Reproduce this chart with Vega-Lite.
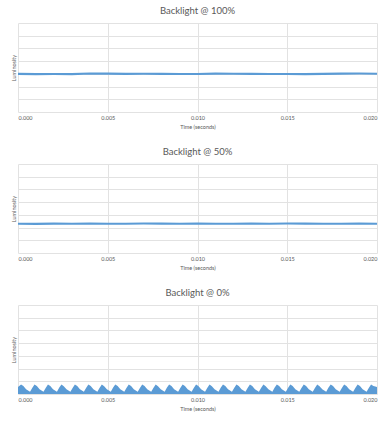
{
  "$schema": "https://vega.github.io/schema/vega-lite/v6.json",
  "padding": {"left": 11, "top": 5, "right": 5, "bottom": 0},
  "background": "white",
  "datasets": {
    "p100": [
      {"t": 0.0, "lum": 3.0}, {"t": 0.001, "lum": 2.98}, {"t": 0.002, "lum": 2.99}, {"t": 0.003, "lum": 2.98},
      {"t": 0.004, "lum": 3.03}, {"t": 0.005, "lum": 3.02}, {"t": 0.006, "lum": 3.0}, {"t": 0.007, "lum": 3.01},
      {"t": 0.008, "lum": 3.0}, {"t": 0.009, "lum": 2.99}, {"t": 0.010, "lum": 2.99}, {"t": 0.011, "lum": 3.02},
      {"t": 0.012, "lum": 3.01}, {"t": 0.013, "lum": 3.0}, {"t": 0.014, "lum": 2.99}, {"t": 0.015, "lum": 2.99},
      {"t": 0.016, "lum": 2.98}, {"t": 0.017, "lum": 3.0}, {"t": 0.018, "lum": 3.02}, {"t": 0.019, "lum": 3.03},
      {"t": 0.020, "lum": 3.01}
    ],
    "p50": [
      {"t": 0.0, "lum": 2.3}, {"t": 0.001, "lum": 2.29}, {"t": 0.002, "lum": 2.31}, {"t": 0.003, "lum": 2.3},
      {"t": 0.004, "lum": 2.31}, {"t": 0.005, "lum": 2.3}, {"t": 0.006, "lum": 2.3}, {"t": 0.007, "lum": 2.32},
      {"t": 0.008, "lum": 2.31}, {"t": 0.009, "lum": 2.3}, {"t": 0.010, "lum": 2.31}, {"t": 0.011, "lum": 2.3},
      {"t": 0.012, "lum": 2.3}, {"t": 0.013, "lum": 2.31}, {"t": 0.014, "lum": 2.3}, {"t": 0.015, "lum": 2.32},
      {"t": 0.016, "lum": 2.31}, {"t": 0.017, "lum": 2.3}, {"t": 0.018, "lum": 2.3}, {"t": 0.019, "lum": 2.31},
      {"t": 0.020, "lum": 2.3}
    ],
    "p0": [
      {"t": 0.0, "lum": 0.55}, {"t": 0.00017, "lum": 0.74}, {"t": 0.0003, "lum": 0.62}, {"t": 0.00045, "lum": 0.38},
      {"t": 0.00067, "lum": 0.18}, {"t": 0.0008, "lum": 0.5}, {"t": 0.00092, "lum": 0.74}, {"t": 0.00105, "lum": 0.62}, {"t": 0.0012, "lum": 0.38},
      {"t": 0.00142, "lum": 0.18}, {"t": 0.00155, "lum": 0.5}, {"t": 0.00167, "lum": 0.75}, {"t": 0.0018, "lum": 0.62}, {"t": 0.00195, "lum": 0.37},
      {"t": 0.00217, "lum": 0.18}, {"t": 0.0023, "lum": 0.51}, {"t": 0.00242, "lum": 0.74}, {"t": 0.00255, "lum": 0.61}, {"t": 0.0027, "lum": 0.38},
      {"t": 0.00292, "lum": 0.17}, {"t": 0.00305, "lum": 0.5}, {"t": 0.00317, "lum": 0.74}, {"t": 0.0033, "lum": 0.62}, {"t": 0.00345, "lum": 0.38},
      {"t": 0.00367, "lum": 0.18}, {"t": 0.0038, "lum": 0.5}, {"t": 0.00392, "lum": 0.75}, {"t": 0.00405, "lum": 0.62}, {"t": 0.0042, "lum": 0.37},
      {"t": 0.00442, "lum": 0.18}, {"t": 0.00455, "lum": 0.5}, {"t": 0.00467, "lum": 0.74}, {"t": 0.0048, "lum": 0.61}, {"t": 0.00495, "lum": 0.38},
      {"t": 0.00517, "lum": 0.18}, {"t": 0.0053, "lum": 0.51}, {"t": 0.00542, "lum": 0.74}, {"t": 0.00555, "lum": 0.62}, {"t": 0.0057, "lum": 0.38},
      {"t": 0.00592, "lum": 0.17}, {"t": 0.00605, "lum": 0.5}, {"t": 0.00617, "lum": 0.75}, {"t": 0.0063, "lum": 0.62}, {"t": 0.00645, "lum": 0.38},
      {"t": 0.00667, "lum": 0.18}, {"t": 0.0068, "lum": 0.5}, {"t": 0.00692, "lum": 0.74}, {"t": 0.00705, "lum": 0.62}, {"t": 0.0072, "lum": 0.37},
      {"t": 0.00742, "lum": 0.18}, {"t": 0.00755, "lum": 0.5}, {"t": 0.00767, "lum": 0.74}, {"t": 0.0078, "lum": 0.61}, {"t": 0.00795, "lum": 0.38},
      {"t": 0.00817, "lum": 0.18}, {"t": 0.0083, "lum": 0.51}, {"t": 0.00842, "lum": 0.75}, {"t": 0.00855, "lum": 0.62}, {"t": 0.0087, "lum": 0.38},
      {"t": 0.00892, "lum": 0.17}, {"t": 0.00905, "lum": 0.5}, {"t": 0.00917, "lum": 0.74}, {"t": 0.0093, "lum": 0.62}, {"t": 0.00945, "lum": 0.38},
      {"t": 0.00967, "lum": 0.18}, {"t": 0.0098, "lum": 0.5}, {"t": 0.00992, "lum": 0.74}, {"t": 0.01005, "lum": 0.62}, {"t": 0.0102, "lum": 0.37},
      {"t": 0.01042, "lum": 0.18}, {"t": 0.01055, "lum": 0.5}, {"t": 0.01067, "lum": 0.75}, {"t": 0.0108, "lum": 0.61}, {"t": 0.01095, "lum": 0.38},
      {"t": 0.01117, "lum": 0.18}, {"t": 0.0113, "lum": 0.51}, {"t": 0.01142, "lum": 0.74}, {"t": 0.01155, "lum": 0.62}, {"t": 0.0117, "lum": 0.38},
      {"t": 0.01192, "lum": 0.17}, {"t": 0.01205, "lum": 0.5}, {"t": 0.01217, "lum": 0.74}, {"t": 0.0123, "lum": 0.62}, {"t": 0.01245, "lum": 0.38},
      {"t": 0.01267, "lum": 0.18}, {"t": 0.0128, "lum": 0.5}, {"t": 0.01292, "lum": 0.75}, {"t": 0.01305, "lum": 0.62}, {"t": 0.0132, "lum": 0.37},
      {"t": 0.01342, "lum": 0.18}, {"t": 0.01355, "lum": 0.5}, {"t": 0.01367, "lum": 0.74}, {"t": 0.0138, "lum": 0.61}, {"t": 0.01395, "lum": 0.38},
      {"t": 0.01417, "lum": 0.18}, {"t": 0.0143, "lum": 0.51}, {"t": 0.01442, "lum": 0.74}, {"t": 0.01455, "lum": 0.62}, {"t": 0.0147, "lum": 0.38},
      {"t": 0.01492, "lum": 0.17}, {"t": 0.01505, "lum": 0.5}, {"t": 0.01517, "lum": 0.75}, {"t": 0.0153, "lum": 0.62}, {"t": 0.01545, "lum": 0.38},
      {"t": 0.01567, "lum": 0.18}, {"t": 0.0158, "lum": 0.5}, {"t": 0.01592, "lum": 0.74}, {"t": 0.01605, "lum": 0.62}, {"t": 0.0162, "lum": 0.37},
      {"t": 0.01642, "lum": 0.18}, {"t": 0.01655, "lum": 0.5}, {"t": 0.01667, "lum": 0.74}, {"t": 0.0168, "lum": 0.61}, {"t": 0.01695, "lum": 0.38},
      {"t": 0.01717, "lum": 0.18}, {"t": 0.0173, "lum": 0.51}, {"t": 0.01742, "lum": 0.75}, {"t": 0.01755, "lum": 0.62}, {"t": 0.0177, "lum": 0.38},
      {"t": 0.01792, "lum": 0.17}, {"t": 0.01805, "lum": 0.5}, {"t": 0.01817, "lum": 0.74}, {"t": 0.0183, "lum": 0.62}, {"t": 0.01845, "lum": 0.38},
      {"t": 0.01867, "lum": 0.18}, {"t": 0.0188, "lum": 0.5}, {"t": 0.01892, "lum": 0.74}, {"t": 0.01905, "lum": 0.62}, {"t": 0.0192, "lum": 0.37},
      {"t": 0.01942, "lum": 0.18}, {"t": 0.01955, "lum": 0.5}, {"t": 0.01967, "lum": 0.75}, {"t": 0.0198, "lum": 0.62}, {"t": 0.02, "lum": 0.55}
    ]
  },
  "vconcat": [
    {
      "title": "Backlight @ 100%",
      "width": 359, "height": 89,
      "data": {"name": "p100"},
      "mark": {"type": "line", "color": "#5b9bd5", "strokeWidth": 2.2},
      "encoding": {
        "x": {"field": "t", "type": "quantitative", "title": "Time (seconds)", "scale": {"domain": [0, 0.02], "nice": false}, "axis": {"values": [0, 0.005, 0.01, 0.015, 0.02], "format": ".3f"}},
        "y": {"field": "lum", "type": "quantitative", "title": "Luminosity", "scale": {"domain": [0, 7], "nice": false}, "axis": {"values": [0, 1, 2, 3, 4, 5, 6, 7], "labels": false}}
      }
    },
    {
      "title": "Backlight @ 50%",
      "width": 359, "height": 89,
      "data": {"name": "p50"},
      "mark": {"type": "line", "color": "#5b9bd5", "strokeWidth": 2.2},
      "encoding": {
        "x": {"field": "t", "type": "quantitative", "title": "Time (seconds)", "scale": {"domain": [0, 0.02], "nice": false}, "axis": {"values": [0, 0.005, 0.01, 0.015, 0.02], "format": ".3f"}},
        "y": {"field": "lum", "type": "quantitative", "title": "Luminosity", "scale": {"domain": [0, 7], "nice": false}, "axis": {"values": [0, 1, 2, 3, 4, 5, 6, 7], "labels": false}}
      }
    },
    {
      "title": "Backlight @ 0%",
      "width": 359, "height": 89,
      "data": {"name": "p0"},
      "mark": {"type": "area", "color": "#5b9bd5", "opacity": 1},
      "encoding": {
        "x": {"field": "t", "type": "quantitative", "title": "Time (seconds)", "scale": {"domain": [0, 0.02], "nice": false}, "axis": {"values": [0, 0.005, 0.01, 0.015, 0.02], "format": ".3f"}},
        "y": {"field": "lum", "type": "quantitative", "title": "Luminosity", "scale": {"domain": [0, 7], "nice": false}, "axis": {"values": [0, 1, 2, 3, 4, 5, 6, 7], "labels": false}}
      }
    }
  ],
  "spacing": 16,
  "config": {
    "font": "Lato",
    "view": {"stroke": null},
    "title": {"fontSize": 9.5, "fontWeight": "normal", "color": "#595959", "offset": 8, "anchor": "middle"},
    "axis": {
      "gridColor": "#e2e2e2", "gridWidth": 1, "domain": false, "ticks": false,
      "labelFontSize": 5.5, "labelColor": "#595959", "titleFontSize": 5.5, "titleColor": "#595959", "titleFontWeight": "normal"
    },
    "axisX": {"labelPadding": 3, "titlePadding": 4},
    "axisY": {"titlePadding": 2}
  }
}
